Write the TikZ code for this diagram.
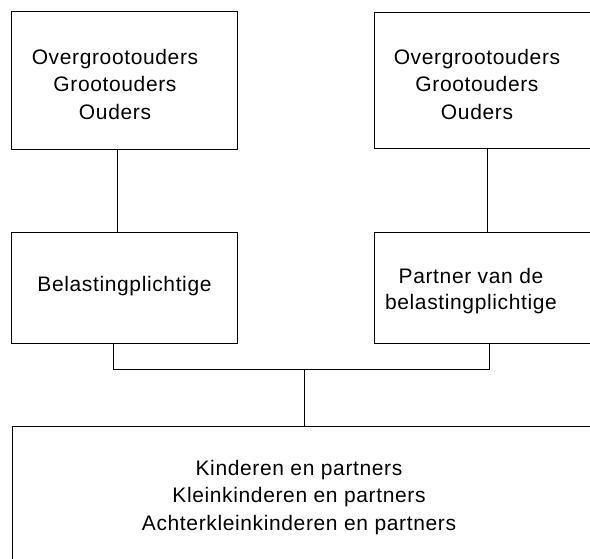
\documentclass[tikz,border=0pt]{standalone}
\usepackage{fontspec}
\setmainfont{Liberation Sans}[LetterSpace=3]
\begin{document}
\begin{tikzpicture}[x=1pt,y=-1pt,
  box/.style={draw=black,line width=0.9pt,inner sep=0pt,outer sep=0pt,anchor=north west},
  lbl/.style={align=center,anchor=base,inner sep=0pt,font=\fontsize{21}{27.5}\selectfont},
  conn/.style={draw=black,line width=0.9pt}]
\useasboundingbox (0,0) rectangle (590,558);
\clip (0,0) rectangle (590,558);
% boxes
\node[box,minimum width=226pt,minimum height=138pt] (A) at (11,11) {};
\node[box,minimum width=260pt,minimum height=136pt] (B) at (374,12) {};
\node[box,minimum width=226pt,minimum height=111pt] (C) at (11,232) {};
\node[box,minimum width=260pt,minimum height=111pt] (D) at (374,232) {};
\node[box,minimum width=620pt,minimum height=160pt] (E) at (12,426) {};
% texts (anchor base = baseline of the last line)
\node[lbl] (tA) at (115,119) {Overgrootouders\\Grootouders\\Ouders};
\node[lbl] (tB) at (477,119) {Overgrootouders\\Grootouders\\Ouders};
\node[lbl] (tC) at (124.5,291) {Belastingplichtige};
\node[lbl,font=\fontsize{21}{26}\selectfont] (tD) at (471,309) {Partner van de\\belastingplichtige};
\node[lbl] (tE) at (299,530) {Kinderen en partners\\Kleinkinderen en partners\\Achterkleinkinderen en partners};
% connectors
\coordinate (ac) at (117,190);
\coordinate (bd) at (487,190);
\coordinate (bl) at (113,369);
\coordinate (br) at (489,369);
\coordinate (bm) at (304,369);
\draw[conn] (A.south -| ac) -- (C.north -| ac);
\draw[conn] (B.south -| bd) -- (D.north -| bd);
\draw[conn] (C.south -| bl) -- (bl) -- (br) -- (D.south -| br);
\draw[conn] (bm) -- (bm |- E.north);
\end{tikzpicture}
\end{document}
